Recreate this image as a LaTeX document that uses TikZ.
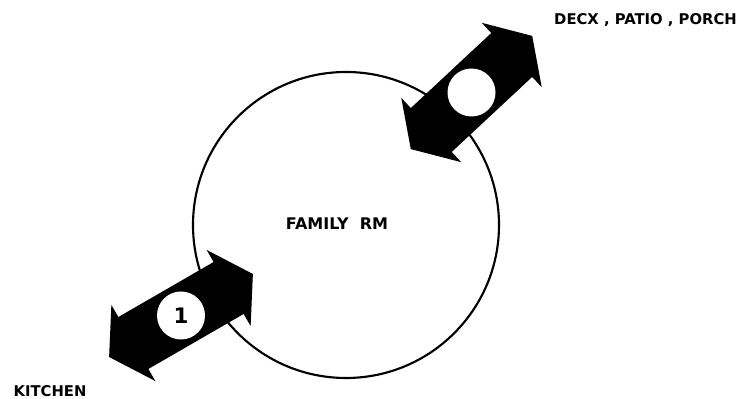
\documentclass[tikz,border=0pt]{standalone}
\usepackage{fontspec}
\setmainfont{DejaVu Sans}
\usetikzlibrary{positioning}

\begin{document}
\begin{tikzpicture}[
    x=0.75pt, y=0.75pt, % one unit = one pixel of the sketch
    roomline/.style={line width=1.6pt}, % outline of the room
    doorarrow/.style={fill=black}, % fat double arrows
    porthole/.style={circle, fill=white, inner sep=0pt, minimum size=36pt,
        font=\fontsize{16}{18}\selectfont\bfseries}, % white disc on the arrow
    roomlabel/.style={anchor=base, font=\fontsize{11.1}{13}\selectfont\bfseries}
]

    % Arrow dimensions (in pixels)
    \def\hlen{55}  % half distance between the two head bases
    \def\shaft{30} % half width of the shaft
    \def\head{44}  % half width of a head
    \def\tip{28}   % length of a head

    \useasboundingbox (0,0) rectangle (747,399);

    % The room
    \draw[roomline] (346,174) circle (153);
    \node[roomlabel, font=\fontsize{12}{14}\selectfont\bfseries] (famrm) at (337,169) {FAMILY~~RM};

    % Double arrows to the neighbouring spaces
    \foreach \cx/\cy/\ang/\num/\nm in {471.5/306.5/43/{}/deck, 181/83.5/30/1/kitchen} {
        \begin{scope}[shift={(\cx,\cy)}, rotate=\ang]
            \fill[doorarrow] (\hlen+\tip,0) -- (\hlen,\head) -- (\hlen,\shaft)
                -- (-\hlen,\shaft) -- (-\hlen,\head) -- (-\hlen-\tip,0)
                -- (-\hlen,-\head) -- (-\hlen,-\shaft) -- (\hlen,-\shaft)
                -- (\hlen,-\head) -- cycle;
        \end{scope}
        \node[porthole] (door-\nm) at (\cx,\cy) {\num};
    }

    % Labels
    \node[roomlabel] (deck) at (645.5,374) {DECX , PATIO , PORCH};
    \node[roomlabel] (kitchen) at (50,2) {KITCHEN};

\end{tikzpicture}
\end{document}
